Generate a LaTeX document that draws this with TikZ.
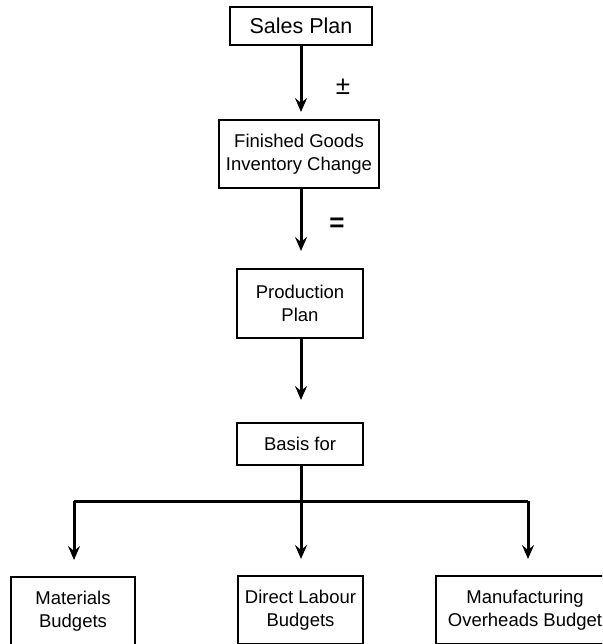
\documentclass[tikz,border=0pt]{standalone}
\usepackage{fontspec}
\setmainfont{Liberation Sans}
\usetikzlibrary{arrows.meta}
\tikzset{
  box/.style={draw, line width=2pt, rectangle, align=center, inner sep=0pt,
    font=\fontsize{18.5}{23}\selectfont},
  arr/.style={line width=3pt, -{Stealth[length=14pt,width=12pt,inset=5pt]}},
  lne/.style={line width=3pt},
  sym/.style={font=\fontsize{26}{28}\selectfont, inner sep=0pt}
}
\begin{document}
\begin{tikzpicture}[x=1pt,y=-1pt]
\clip (0,0) rectangle (602,644);
\fill[white] (0,0) rectangle (602,644);
\node[box, minimum width=142pt, minimum height=38pt, font=\fontsize{21.5}{24}\selectfont] (sp) at (301,26) {Sales Plan};
\node[box, minimum width=160pt, minimum height=68pt] (fg) at (299,154) {Finished Goods\\Inventory Change};
\node[box, minimum width=126pt, minimum height=69pt] (pp) at (300,303.5) {Production\\Plan};
\node[box, minimum width=126pt, minimum height=42pt] (bf) at (300,444) {Basis for};
\node[box, minimum width=124pt, minimum height=68pt] (mb) at (73,611) {Materials\\Budgets};
\node[box, minimum width=125pt, minimum height=68pt] (dl) at (300.5,610) {Direct Labour\\Budgets};
\node[box, minimum width=178pt, minimum height=68pt] (mo) at (525,610) {Manufacturing\\Overheads Budget};
\node[sym] (pm) at (343,87) {±};
\node[sym] (eq) at (337,225) {\textbf{=}};
\coordinate (j) at (301,501);
\coordinate (jl) at (74,501);
\coordinate (jr) at (528,501);
\coordinate (a1) at (301,45);
\coordinate (a2) at (301,188);
\coordinate (a3) at (301,338);
\coordinate (a4) at (301,465);
\draw[arr, shorten >=7pt] (a1) -- (a1 |- fg.north);
\draw[arr, shorten >=17pt] (a2) -- (a2 |- pp.north);
\draw[arr, shorten >=22pt] (a3) -- (a3 |- bf.north);
\draw[lne] (a4) -- (j);
\draw[lne] (jl) -- (jr);
\draw[arr, shorten >=16pt] (jl) -- (jl |- mb.north);
\draw[arr, shorten >=16pt] (j) -- (j |- dl.north);
\draw[arr, shorten >=16pt] (jr) -- (jr |- mo.north);
\end{tikzpicture}
\end{document}
